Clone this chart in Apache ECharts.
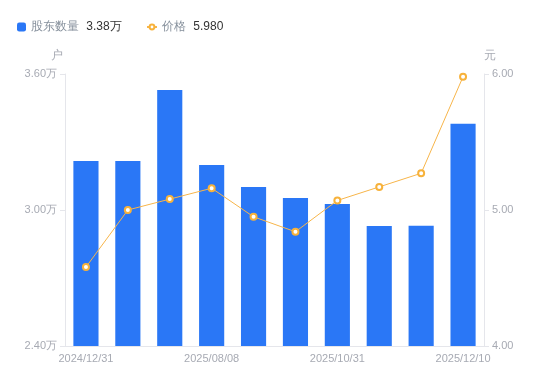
<!DOCTYPE html>
<html>
<head>
<meta charset="utf-8">
<script src="https://cdn.jsdelivr.net/npm/echarts@6/dist/echarts.min.js"></script>
<style>
html,body{margin:0;padding:0;background:#fff;}
#main{width:550px;height:381px;}
</style>
</head>
<body>
<div id="main"></div>
<script>
var categories = ['2024/12/31','2025/03/31','2025/06/30','2025/08/08','2025/08/31','2025/09/30','2025/10/31','2025/11/10','2025/11/30','2025/12/10'];
var holders = [3.216, 3.216, 3.529, 3.199, 3.101, 3.053, 3.026, 2.929, 2.931, 3.38];
var prices = [4.58, 5.00, 5.08, 5.16, 4.95, 4.84, 5.07, 5.17, 5.27, 5.98];
var leftTicks = [2.4, 3.0, 3.6];
var rightTicks = [4, 5, 6];
var legendValues = {'股东数量': '3.38万', '价格': '5.980'};

var chart = echarts.init(document.getElementById('main'), null, {renderer: 'canvas'});
var axisColor = '#a7aab3';
var lineColor = '#e5e6eb';
var legendText = {fontSize: 12, color: '#86909c',
  rich: {v: {fontSize: 12, color: '#333', padding: [0, 0, 0, 4]}}};
function legendFmt(name) { return name + ' {v|' + legendValues[name] + '}'; }
chart.setOption({
  animation: false,
  legend: [{
    left: 12,
    top: 16,
    itemWidth: 9,
    itemHeight: 9,
    textStyle: legendText,
    formatter: legendFmt,
    data: [{name: '股东数量', icon: 'roundRect'}]
  }, {
    left: 141,
    top: 16,
    itemWidth: 10,
    itemHeight: 6,
    textStyle: legendText,
    formatter: legendFmt,
    data: [{name: '价格'}]
  }],
  grid: {left: 65, right: 66, top: 74, bottom: 35},
  xAxis: {
    type: 'category',
    data: categories,
    axisLine: {lineStyle: {color: lineColor}},
    axisTick: {show: false},
    axisLabel: {interval: 2, color: axisColor, fontSize: 11, margin: 7}
  },
  yAxis: [{
    type: 'value',
    name: '户',
    nameGap: 12,
    nameTextStyle: {color: axisColor, fontSize: 12, align: 'right', padding: [0, 2, 0, 0]},
    min: leftTicks[0], max: leftTicks[leftTicks.length - 1], interval: 0.6,
    axisLine: {show: true, lineStyle: {color: lineColor}},
    axisTick: {show: true, length: 5, lineStyle: {color: lineColor}},
    splitLine: {show: false},
    axisLabel: {color: axisColor, fontSize: 11, margin: 8,
      formatter: function (v) { return v.toFixed(2) + '万'; }}
  }, {
    type: 'value',
    name: '元',
    nameGap: 12,
    nameTextStyle: {color: axisColor, fontSize: 12, align: 'left', padding: [0, 0, 0, 0]},
    min: rightTicks[0], max: rightTicks[rightTicks.length - 1], interval: 1,
    axisLine: {show: true, lineStyle: {color: lineColor}},
    axisTick: {show: true, length: 5, lineStyle: {color: lineColor}},
    splitLine: {show: false},
    axisLabel: {color: axisColor, fontSize: 11, margin: 8,
      formatter: function (v) { return v.toFixed(2); }}
  }],
  series: [{
    name: '股东数量',
    type: 'bar',
    data: holders,
    barWidth: '60%',
    itemStyle: {color: '#2a77f6'}
  }, {
    name: '价格',
    type: 'line',
    yAxisIndex: 1,
    data: prices,
    symbol: 'circle',
    symbolSize: 6,
    showSymbol: true,
    lineStyle: {color: '#f7b54a', width: 1},
    itemStyle: {color: '#fff', borderColor: '#f7b23b', borderWidth: 2}
  }]
});
</script>
</body>
</html>
